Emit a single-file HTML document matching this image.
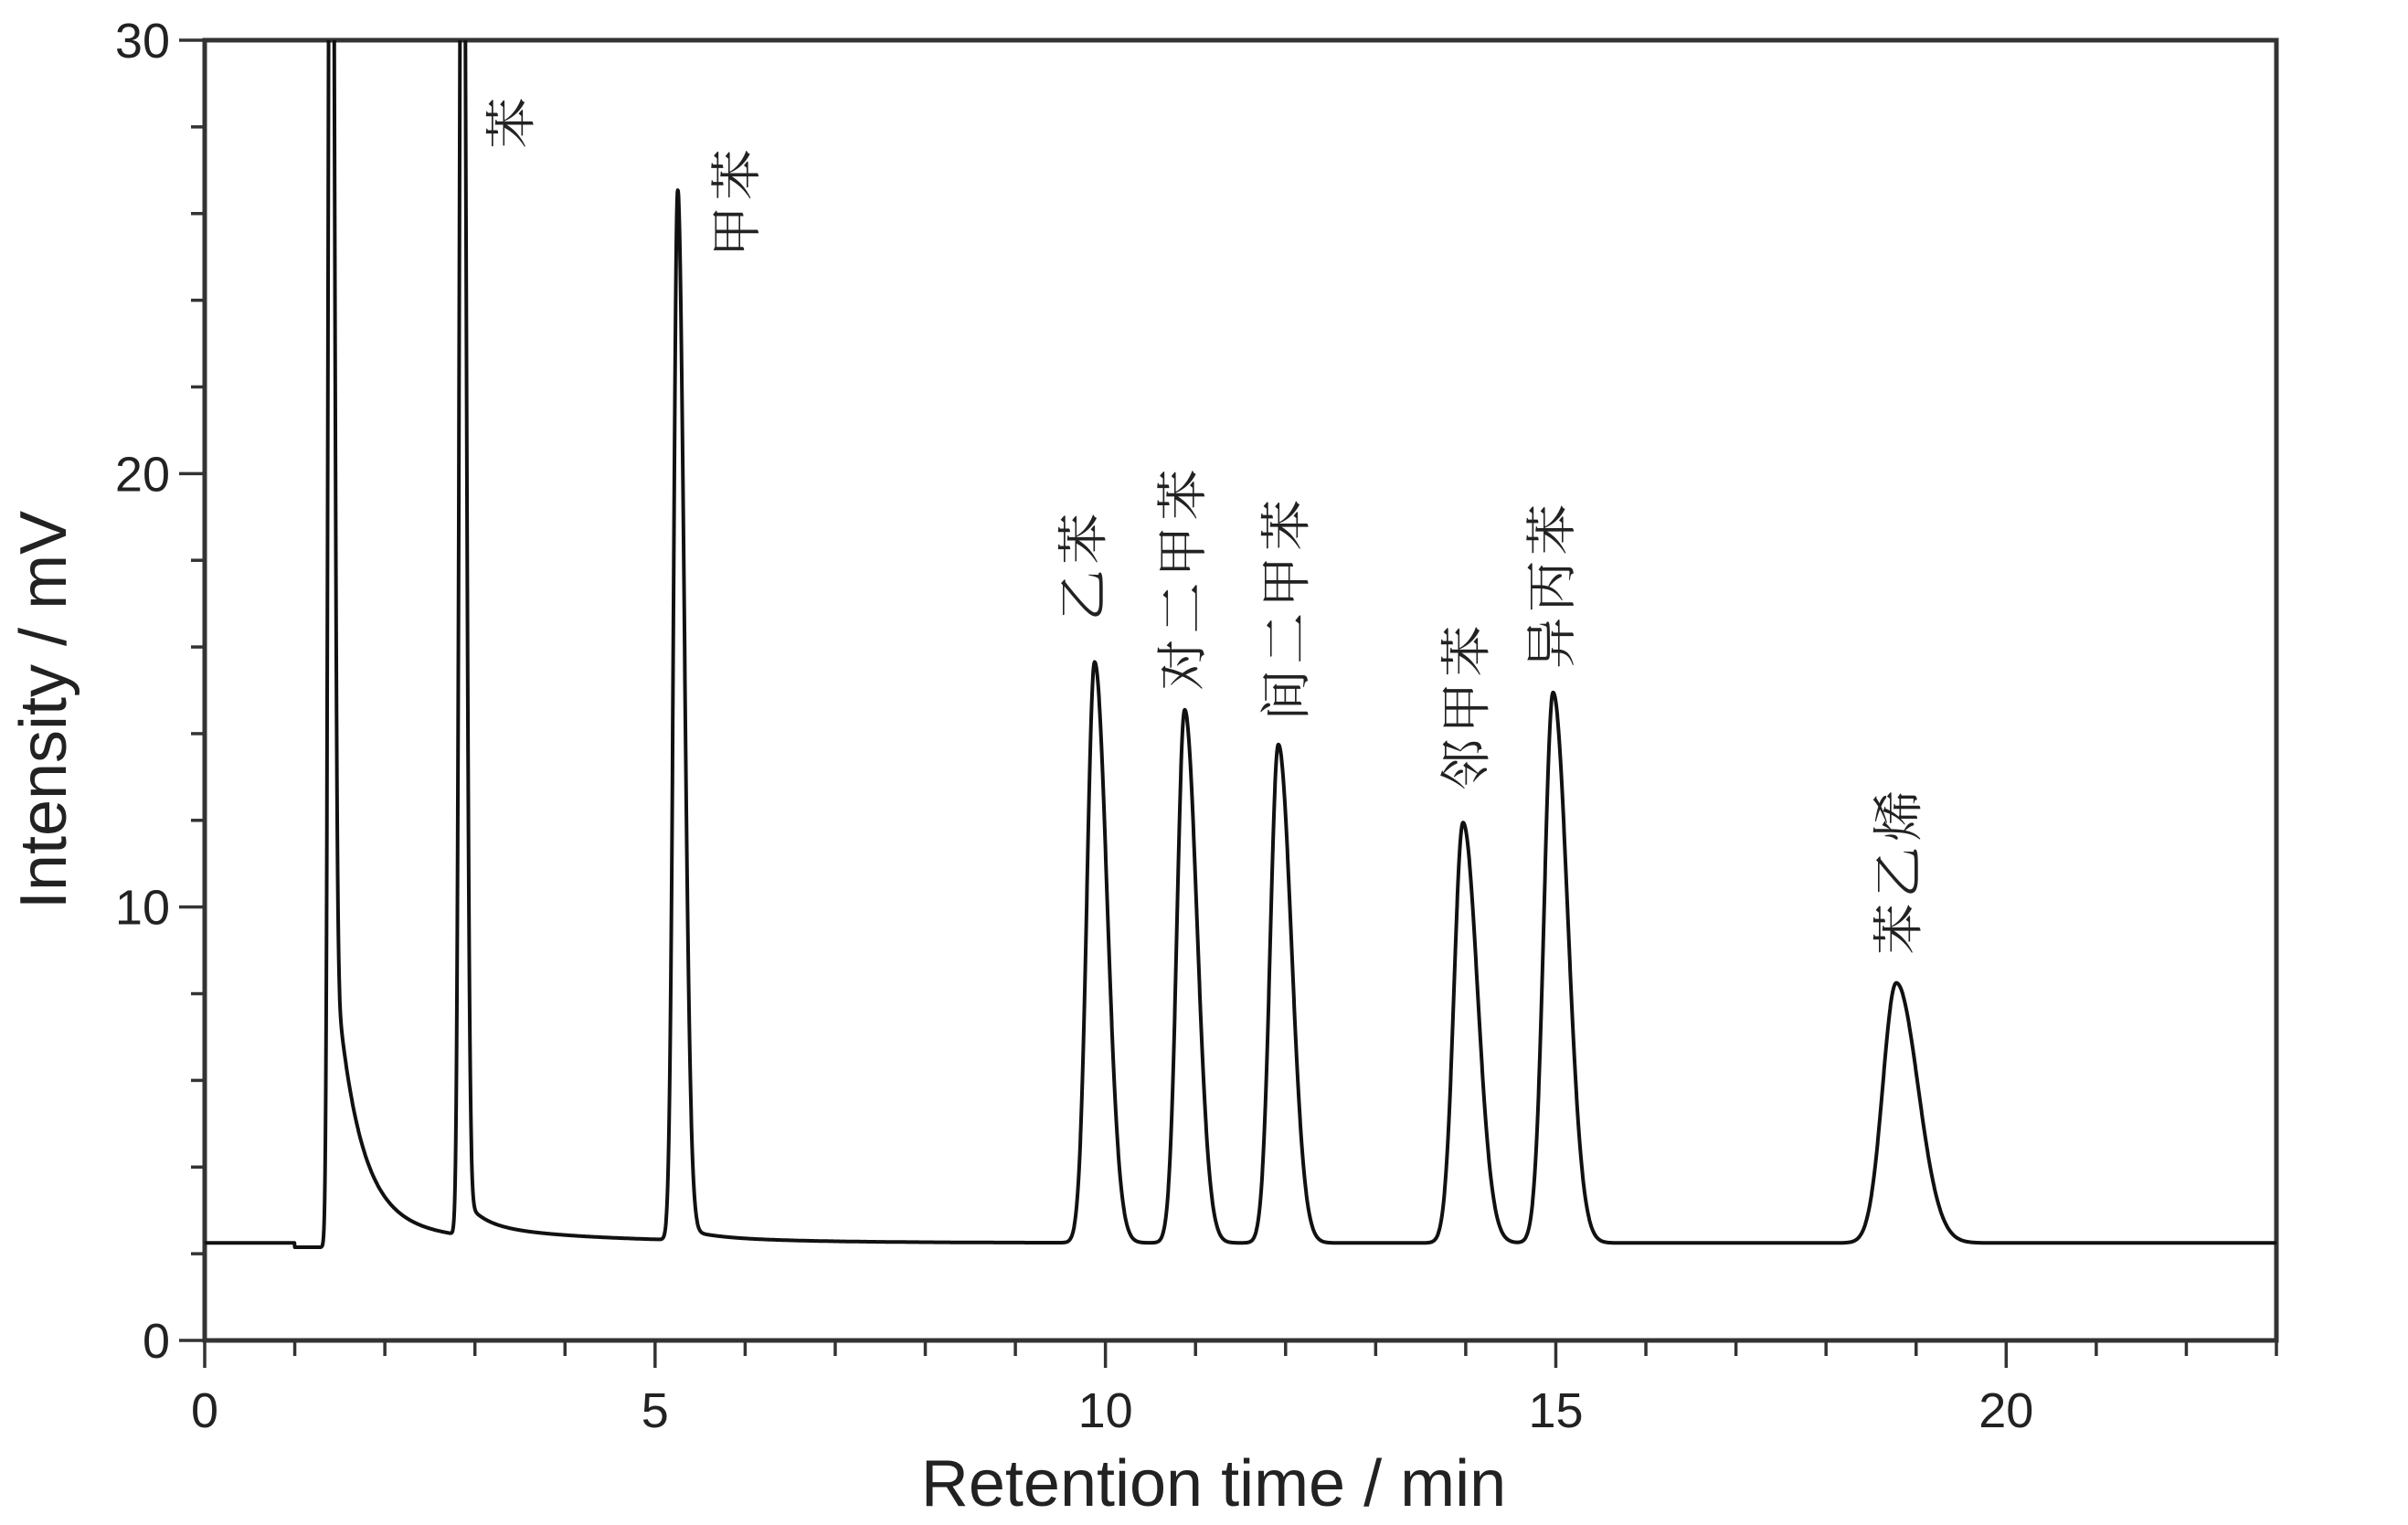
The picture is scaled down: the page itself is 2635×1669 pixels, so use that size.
<!DOCTYPE html>
<html><head><meta charset="utf-8"><style>
html,body{margin:0;padding:0;background:#fff;}
svg{display:block;}
text{font-family:"Liberation Sans",Arial,sans-serif;fill:#222;}
.cjk{font-family:"Noto Serif CJK SC","Noto Sans CJK SC",serif;}
</style></head><body>
<svg id="chart" width="2635" height="1669" viewBox="0 0 2635 1669" xmlns="http://www.w3.org/2000/svg">
<defs><clipPath id="plotclip"><rect x="224" y="44" width="2267" height="1423"/></clipPath></defs>
<g id="axes"></g>
<g id="series" clip-path="url(#plotclip)"></g>
<g id="labels"></g>
<text x="0" y="0" transform="translate(72,777) rotate(-90)" text-anchor="middle" font-size="72">Intensity / mV</text>
<text x="1328" y="1648" text-anchor="middle" font-size="72">Retention time / min</text>
</svg>
<script>
// Peak data (min, mV)
const peakNames = ["溶剂", "苯", "甲苯", "乙苯", "对二甲苯", "间二甲苯", "邻甲苯", "异丙苯", "苯乙烯"];
const peakTimes = [1.40, 2.86, 5.25, 9.88, 10.88, 11.92, 13.97, 14.97, 18.78];
const peakHeights = [45, 40, 24.2, 13.4, 12.3, 11.5, 9.7, 12.7, 6.0];
const peakWidths = [0.025, 0.03, 0.045, 0.085, 0.085, 0.09, 0.1, 0.1, 0.15];
const peakTails = [1.3, 1.3, 1.6, 1.6, 1.6, 1.6, 1.6, 1.6, 1.6];
const tailAmpA = [6.5, 0.6, 0.2, 0, 0, 0, 0, 0, 0];
const tailTauA = [0.25, 0.2, 0.3, 1, 1, 1, 1, 1, 1];
const tailAmpB = [1.0, 0.3, 0.1, 0, 0, 0, 0, 0, 0];
const tailTauB = [0.8, 1.5, 1.0, 1, 1, 1, 1, 1, 1];
const baselineLevel = 2.25;
const labelNames = ["苯", "甲苯", "乙苯", "对二甲苯", "间二甲苯", "邻甲苯", "异丙苯", "苯乙烯"];
const labelTimes = [3.4, 5.9, 9.75, 10.85, 12.0, 14.0, 14.95, 18.8];
const labelBase = [27.5, 25.0, 16.6, 15.0, 14.3, 12.7, 15.5, 8.9];
const xTicks = [0, 5, 10, 15, 20];
const yTicks = [0, 10, 20, 30];

const L = 224, R = 2491, T = 44, B = 1467;
const xMax = 23, yMax = 30;
const X = t => L + (t / xMax) * (R - L);
const Y = v => B - (v / yMax) * (B - T);
const NS = "http://www.w3.org/2000/svg";
function mk(tag, parent) { const e = document.createElementNS(NS, tag); parent.appendChild(e); return e; }

const axes = document.getElementById("axes");
const frame = mk("rect", axes);


frame.setAttribute("x", L); frame.setAttribute("y", T);
frame.setAttribute("width", R - L); frame.setAttribute("height", B - T);
frame.setAttribute("fill", "none"); frame.setAttribute("stroke", "#333"); frame.setAttribute("stroke-width", "5");

for (let t = 0; t <= xMax; t++) {
  const major = t % 5 === 0;
  const tk = mk("line", axes);
  
  
  tk.setAttribute("x1", X(t)); tk.setAttribute("x2", X(t));
  tk.setAttribute("y1", B); tk.setAttribute("y2", B + (major ? 30 : 17));
  tk.setAttribute("stroke", "#333"); tk.setAttribute("stroke-width", "3.5");
}
xTicks.forEach(v => {
  const tx = mk("text", axes);
  
  
  tx.setAttribute("x", X(v)); tx.setAttribute("y", B + 95);
  tx.setAttribute("text-anchor", "middle"); tx.setAttribute("font-size", "54");
  tx.textContent = v;
});
for (let v = 0; v <= yMax; v += 2) {
  const major = v % 10 === 0;
  const tk = mk("line", axes);
  
  
  tk.setAttribute("x1", L); tk.setAttribute("x2", L - (major ? 28 : 15));
  tk.setAttribute("y1", Y(v)); tk.setAttribute("y2", Y(v));
  tk.setAttribute("stroke", "#333"); tk.setAttribute("stroke-width", "3.5");
}
yTicks.forEach(v => {
  const tx = mk("text", axes);
  
  
  tx.setAttribute("x", L - 38); tx.setAttribute("y", Y(v) + 19);
  tx.setAttribute("text-anchor", "end"); tx.setAttribute("font-size", "54");
  tx.textContent = v;
});

function signal(t) {
  let y = baselineLevel;
  if (t > 1.0 && t < 1.36) y -= 0.1;
  for (let i = 0; i < peakTimes.length; i++) {
    const d = t - peakTimes[i];
    const s = d < 0 ? peakWidths[i] : peakWidths[i] * peakTails[i];
    y += peakHeights[i] * Math.exp(-d * d / (2 * s * s));
    if (d > 0) {
      const rise = 1 - Math.exp(-d / 0.02);
      y += rise * (tailAmpA[i] * Math.exp(-d / tailTauA[i]) + tailAmpB[i] * Math.exp(-d / tailTauB[i]));
    }
  }
  return y;
}
const series = document.getElementById("series");
let d = "";
for (let t = 0; t <= xMax + 1e-9; t += 0.004) {
  d += (d ? "L" : "M") + X(t).toFixed(1) + "," + Y(Math.min(signal(t), 32)).toFixed(1);
}
const path = mk("path", series);


path.setAttribute("d", d); path.setAttribute("fill", "none");
path.setAttribute("stroke", "#111"); path.setAttribute("stroke-width", "4");
path.setAttribute("stroke-linejoin", "round");

const labels = document.getElementById("labels");
labelNames.forEach((n, i) => {
  const tx = mk("text", labels);
  
  
  tx.setAttribute("class", "cjk");
  tx.setAttribute("font-size", "56");
  tx.setAttribute("transform", "translate(" + (X(labelTimes[i]) + 20).toFixed(1) + "," + Y(labelBase[i]).toFixed(1) + ") rotate(-90)");
  tx.setAttribute("letter-spacing", "6");
  tx.textContent = n;
});
</script>
</body></html>
